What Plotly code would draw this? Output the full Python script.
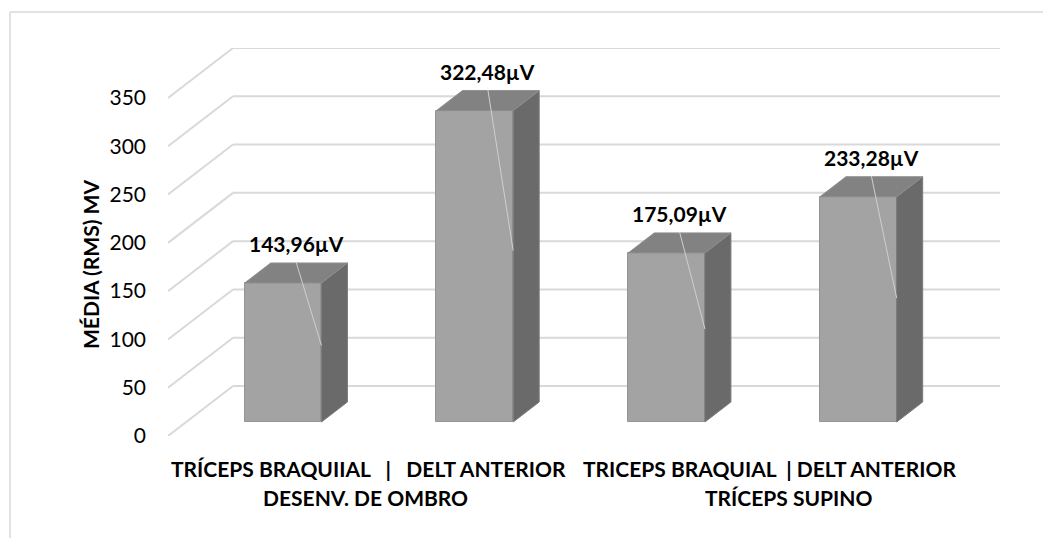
import plotly.graph_objects as go

# ---- data ----
categories = ["TRÍCEPS BRAQUIIAL", "DELT ANTERIOR", "TRICEPS BRAQUIAL", "DELT ANTERIOR"]
values = [143.96, 322.48, 175.09, 233.28]
value_labels = ["143,96µV", "322,48µV", "175,09µV", "233,28µV"]
group_line1 = ["TRÍCEPS BRAQUIIAL &nbsp; | &nbsp; DELT ANTERIOR", "TRICEPS BRAQUIAL &nbsp;| DELT ANTERIOR"]
group_line2 = ["DESENV. DE OMBRO", "TRÍCEPS SUPINO"]
y_ticks = [0, 50, 100, 150, 200, 250, 300, 350]
y_title = "MÉDIA (RMS) MV"

# ---- geometry (oblique 3D projection) ----
W, H = 1051, 538
OFF = 8  # page body margin offset
ML = 168 - OFF
MT = 48 - OFF
PLOT_BOTTOM = 436 - OFF
PLOT_RIGHT = 1000 - OFF
MB = H - PLOT_BOTTOM
MR = W - PLOT_RIGHT
PW, PH = W - ML - MR, H - MT - MB
DEPTH_PX_X, DEPTH_PX_Y = 65, 50
n = len(values)
cat_px = (PW - DEPTH_PX_X) / n
dxu = DEPTH_PX_X / cat_px
k = (PH - DEPTH_PX_Y) / max(y_ticks)
dyu = DEPTH_PX_Y / k
YMAX = max(y_ticks) + dyu
XMAX = n + dxu

F0, FD = 0.28, 0.40          # bar front depth fraction, bar depth fraction
HALF = 0.20                  # bar half width in category units
XSHIFT = 1.0 / cat_px        # 1px nudge

def px_x(X):
    return (X - OFF - ML) / PW

def px_y(Y):
    return (H - MB - (Y - OFF)) / PH

fig = go.Figure()

# gridlines (side wall diagonal + back wall horizontal)
shapes = []
grid_col = "#d9d9d9"
for t in y_ticks:
    shapes.append(dict(type="line", xref="x", yref="y", x0=0, y0=t, x1=dxu, y1=t + dyu,
                       line=dict(color=grid_col, width=2), layer="below"))
    shapes.append(dict(type="line", xref="x", yref="y", x0=dxu, y0=t + dyu, x1=n + dxu, y1=t + dyu,
                       line=dict(color=grid_col, width=2), layer="below"))

# outer chart frame
shapes.append(dict(type="line", xref="paper", yref="paper", x0=px_x(10), y0=px_y(12), x1=px_x(W + 20), y1=px_y(12),
                   line=dict(color="#d9d9d9", width=1.5)))
shapes.append(dict(type="line", xref="paper", yref="paper", x0=px_x(10), y0=px_y(12), x1=px_x(10), y1=px_y(H + 20),
                   line=dict(color="#d9d9d9", width=1.5)))

# front faces as bars
fx = [i + 0.5 + F0 * dxu + XSHIFT for i in range(n)]
fig.add_trace(go.Bar(
    x=fx, y=values, base=[F0 * dyu] * n, width=2 * HALF,
    marker=dict(color="#a3a3a3", line=dict(color="#959595", width=1)),
    hoverinfo="skip", showlegend=False,
))

# side and top faces
bdx, bdy = FD * dxu, FD * dyu
for i, v in enumerate(values):
    xl, xr = fx[i] - HALF, fx[i] + HALF
    yb, yt = F0 * dyu, F0 * dyu + v
    fig.add_trace(go.Scatter(
        x=[xr, xr + bdx, xr + bdx, xr, xr], y=[yb, yb + bdy, yt + bdy, yt, yb],
        fill="toself", fillcolor="#6a6a6a", mode="lines",
        line=dict(color="#7a7a7a", width=1), hoverinfo="skip", showlegend=False))
    fig.add_trace(go.Scatter(
        x=[xl, xr, xr + bdx, xl + bdx, xl], y=[yt, yt, yt + bdy, yt + bdy, yt],
        fill="toself", fillcolor="#828282", mode="lines",
        line=dict(color="#8e8e8e", width=1), hoverinfo="skip", showlegend=False))
    fig.add_trace(go.Scatter(
        x=[fx[i] + bdx / 2, xr], y=[yt + bdy + 1, yb + v * 0.55],
        mode="lines", line=dict(color="#cfcfcf", width=1),
        hoverinfo="skip", showlegend=False))

annotations = []
for i, v in enumerate(values):
    annotations.append(dict(
        x=fx[i] + bdx / 2, y=F0 * dyu + v + bdy, xref="x", yref="y",
        text=f"<b>{value_labels[i]}</b>", showarrow=False, yanchor="bottom", yshift=5,
        font=dict(family="Lato", size=21, color="#000000")))

# y-axis title
annotations.append(dict(
    x=px_x(90), y=px_y(265), xref="paper", yref="paper", text=f"<b>{y_title}</b>",
    textangle=-90, showarrow=False, xanchor="center", yanchor="middle",
    font=dict(family="Lato", size=21, color="#000000")))

# grouped category labels
l1_x = [368.5, 769]
l2_x = [365.5, 788.5]
for g in range(len(group_line1)):
    annotations.append(dict(
        x=px_x(l1_x[g]), y=px_y(468), xref="paper", yref="paper", text=f"<b>{group_line1[g]}</b>",
        showarrow=False, xanchor="center", yanchor="middle",
        font=dict(family="Lato", size=21, color="#000000")))
    annotations.append(dict(
        x=px_x(l2_x[g]), y=px_y(498), xref="paper", yref="paper", text=f"<b>{group_line2[g]}</b>",
        showarrow=False, xanchor="center", yanchor="middle",
        font=dict(family="Lato", size=21, color="#000000")))

fig.update_layout(
    width=W, height=H,
    margin=dict(l=ML, r=MR, t=MT, b=MB, pad=0),
    paper_bgcolor="white", plot_bgcolor="white",
    shapes=shapes, annotations=annotations,
    xaxis=dict(range=[0, XMAX], showgrid=False, zeroline=False, showticklabels=False,
               showline=False, fixedrange=True),
    yaxis=dict(range=[0, YMAX], showgrid=False, zeroline=False, showline=False,
               tickvals=y_ticks, ticktext=[str(t) for t in y_ticks], ticks="",
               ticklabelstandoff=21, tickfont=dict(family="Lato", size=21, color="#000000"),
               fixedrange=True),
    showlegend=False,
    bargap=0,
)

fig.write_html("out.html")
